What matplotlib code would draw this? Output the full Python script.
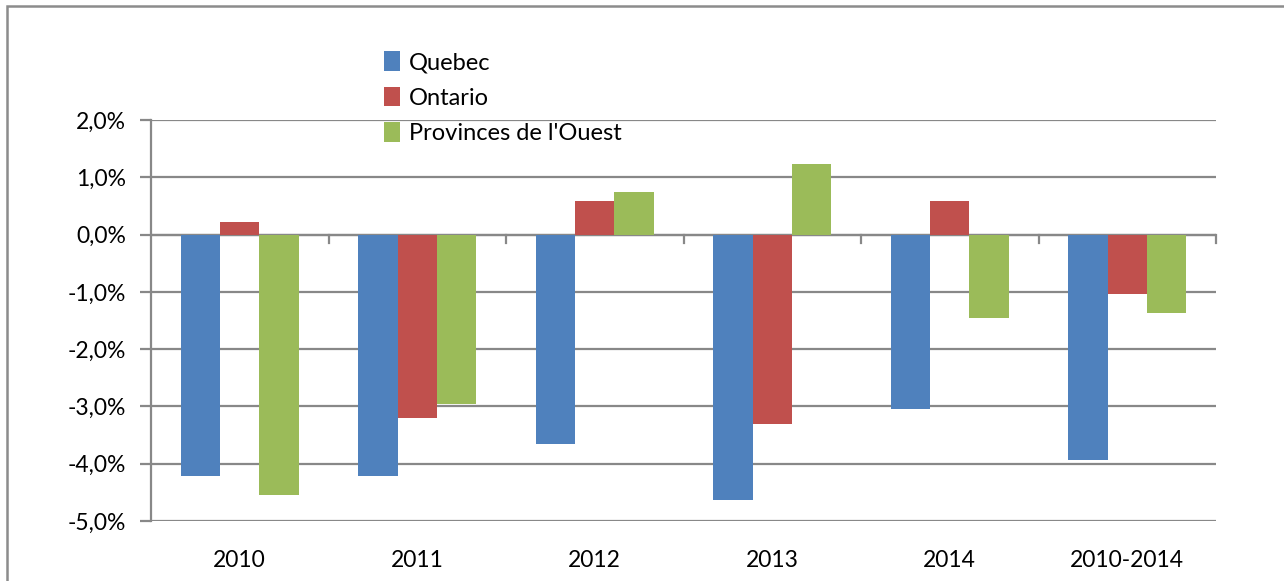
import numpy as np
import matplotlib.pyplot as plt
from matplotlib.patches import Rectangle, Patch
from matplotlib.ticker import FuncFormatter

# Categories and series values (in %)
categories = ['2010', '2011', '2012', '2013', '2014', '2010-2014']
quebec = [-4.22, -4.22, -3.65, -4.63, -3.05, -3.93]
ontario = [0.22, -3.20, 0.58, -3.30, 0.58, -1.03]
ouest = [-4.54, -2.96, 0.75, 1.24, -1.45, -1.37]
series_names = ['Quebec', 'Ontario', "Provinces de l'Ouest"]
series_colors = ['#4f81bd', '#c0504d', '#9bbb59']

plt.rcParams['font.family'] = ['Lato', 'DejaVu Sans']

fig = plt.figure(figsize=(12.84, 5.81), dpi=100)
ax = fig.add_axes([151 / 1284, 1 - 521 / 581, (1216 - 151) / 1284, (521 - 120) / 581])

# outer chart border
fig.patches.append(Rectangle((6.5 / 1284, -0.01), 1.05, 1 - 6.5 / 581 + 0.01,
                             transform=fig.transFigure, fill=False,
                             edgecolor='#8c8c8c', linewidth=1.8))

x = np.arange(len(categories))
width = 1 / 4.5
for i, (vals, col) in enumerate(zip([quebec, ontario, ouest], series_colors)):
    ax.bar(x + (i - 1) * width, vals, width, color=col, zorder=3)

ax.set_xlim(-0.5, len(categories) - 0.5)
ax.set_ylim(-5, 2)
ax.set_yticks(np.arange(-5, 2.1, 1))
ax.yaxis.set_major_formatter(FuncFormatter(lambda v, p: f"{v:.1f}%".replace('.', ',')))
ax.grid(axis='y', color='#888888', linewidth=1.6, zorder=0)

for s in ['top', 'right', 'bottom']:
    ax.spines[s].set_visible(False)
ax.spines['left'].set_color('#888888')
ax.spines['left'].set_linewidth(1.6)

# category ticks hang from the zero line at the boundaries
ax.axhline(0, color='#888888', linewidth=1.6, zorder=2)
for b in np.arange(0.5, len(categories) - 0.4, 1):
    ax.plot([b, b], [0, -0.14], color='#888888', linewidth=1.6, zorder=2, clip_on=False)
ax.set_xticks(x)
ax.set_xticklabels(categories)
ax.tick_params(axis='x', length=0, pad=21, labelsize=16.5)
ax.tick_params(axis='y', length=8, color='#888888', width=1.6, pad=10, labelsize=16.5)

handles = [Patch(facecolor=c, edgecolor='none') for c in series_colors]
fig.legend(handles, series_names, loc='upper left',
           bbox_to_anchor=(375 / 1284, 1 - 42 / 581), frameon=False,
           fontsize=17, handlelength=0.65, handleheight=0.9,
           handletextpad=0.4, labelspacing=0.57, borderaxespad=0)

fig.savefig('out.png', dpi=100)
